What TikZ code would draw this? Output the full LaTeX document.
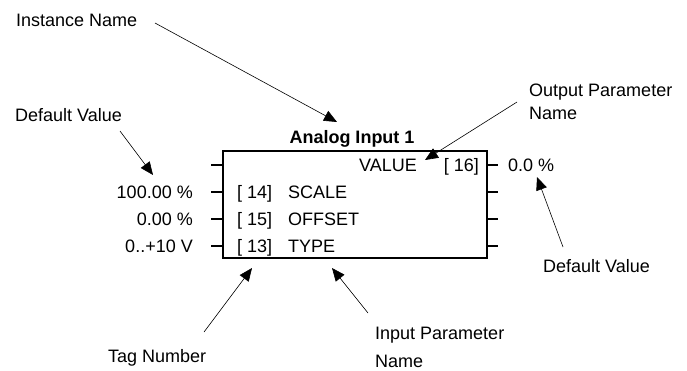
\documentclass[tikz,border=0pt]{standalone}
\usepackage{fontspec}
\setmainfont{Liberation Sans}
\usetikzlibrary{arrows.meta}
\usetikzlibrary{positioning}

\tikzset{
  pointer/.style = {line width = 0.6pt, -{Triangle[length = 13pt, width = 11pt]}},
  pin/.style = {line width = 2pt},
  lbl/.style = {inner sep = 0, font = \fontsize{18}{22}\selectfont}
}

\begin{document}
\begin{tikzpicture}[x = 1pt, y = -1pt]
  \useasboundingbox (0, 0) rectangle (687, 370);

  % the function block
  \draw[line width = 1.8pt] (223, 151) coordinate (blockNW) rectangle (487, 258)
  coordinate (blockSE);
  \node[lbl, anchor = base, font = \fontsize{18}{22}\selectfont\bfseries]
  (title) at (352, 143) {Analog Input 1};

  \foreach \y in {165, 192, 219, 246} {
    \draw[pin] (211, \y) -- (223, \y);
    \draw[pin] (487, \y) -- (498, \y);
  }

  \node[lbl, anchor = base east] (value) at (417, 171.5) {VALUE};
  \node[lbl, anchor = base east] (valuetag) at (479, 171.5) {[ 16]};
  \node[lbl, anchor = base west] (scaletag) at (237, 198.5) {[ 14]};
  \node[lbl, anchor = base west] (scale) at (288, 198.5) {SCALE};
  \node[lbl, anchor = base west] (offsettag) at (237, 225.5) {[ 15]};
  \node[lbl, anchor = base west] (offset) at (288, 225.5) {OFFSET};
  \node[lbl, anchor = base west] (typetag) at (237, 252.5) {[ 13]};
  \node[lbl, anchor = base west] (type) at (288, 252.5) {TYPE};

  % default values
  \node[lbl, anchor = base east] (scaledef) at (193, 198.5) {100.00 \%};
  \node[lbl, anchor = base east] (offsetdef) at (193, 225.5) {0.00 \%};
  \node[lbl, anchor = base east] (typedef) at (193, 252.5) {0..+10 V};
  \node[lbl, anchor = base west] (valuedef) at (508, 171.5) {0.0 \%};

  % callouts
  \node[lbl, anchor = base west] (instname) at (16, 26.5) {Instance Name};
  \node[lbl, anchor = base west] (defleft) at (15, 121.5) {Default Value};
  \node[lbl, anchor = north west, align = left] (outname) at (529, 84)
  {Output Parameter\\[1pt]Name};
  \node[lbl, anchor = base west] (defright) at (543, 272) {Default Value};
  \node[lbl, anchor = base west] (tagnum) at (108, 362) {Tag Number};
  \node[lbl, anchor = north west, align = left] (inname) at (375, 327)
  {Input Parameter\\[6pt]Name};

  \coordinate (instfrom) at (155, 23);
  \coordinate (insttip) at (337, 122);
  \coordinate (defleftfrom) at (120, 131);
  \coordinate (deflefttip) at (153, 175);
  \coordinate (outfrom) at (517, 102);
  \coordinate (outtip) at (425, 160);
  \coordinate (defrightfrom) at (563, 247);
  \coordinate (defrighttip) at (537, 177);
  \coordinate (tagfrom) at (204, 332);
  \coordinate (tagtip) at (252, 268);
  \coordinate (infrom) at (368, 313);
  \coordinate (intip) at (332, 268);

  \draw[pointer] (instfrom) -- (insttip);
  \draw[pointer] (defleftfrom) -- (deflefttip);
  \draw[pointer] (outfrom) -- (outtip);
  \draw[pointer] (defrightfrom) -- (defrighttip);
  \draw[pointer] (tagfrom) -- (tagtip);
  \draw[pointer] (infrom) -- (intip);
\end{tikzpicture}
\end{document}
